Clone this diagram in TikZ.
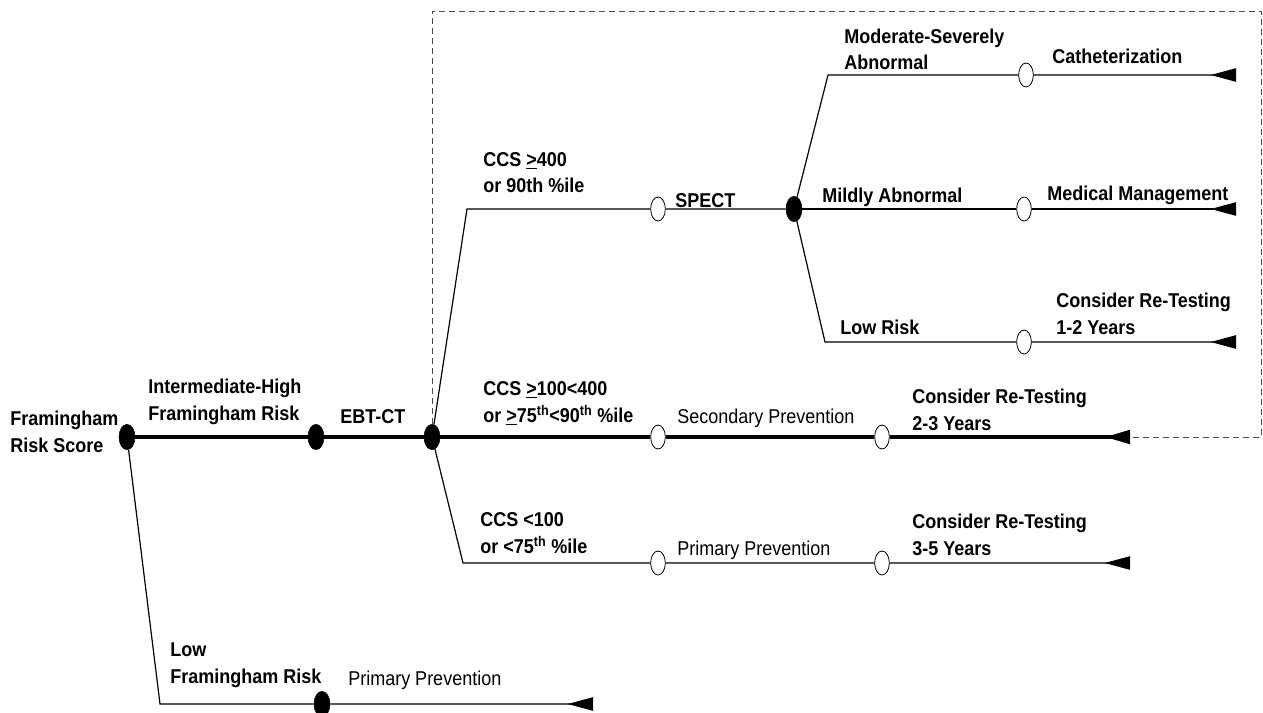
\documentclass[tikz,border=0pt]{standalone}
\usepackage{fontspec}
\setmainfont{Liberation Sans}[FakeStretch=0.9]
\usetikzlibrary{shapes.geometric,arrows.meta}
\newcommand{\lblsize}{\fontsize{15}{20}\selectfont}

\begin{document}
\begin{tikzpicture}[x=0.75pt,y=-0.75pt]

\tikzstyle{decision}=[draw,fill=black,ellipse,minimum width=12pt,minimum height=19pt,inner sep=0pt]
\tikzstyle{chance}=[draw,fill=white,ellipse,minimum width=11pt,minimum height=18pt,inner sep=0pt,line width=0.6pt]
\tikzstyle{lbl}=[anchor=base west,inner sep=0pt,align=left,font=\lblsize\bfseries]
\tikzstyle{lblplain}=[anchor=base west,inner sep=0pt,align=left,font=\lblsize]
\tikzstyle{trunk}=[line width=3pt]
\tikzstyle{branch}=[line width=0.9pt]
\tikzstyle{leaf}=[-{Triangle[reversed,length=19pt,width=10pt]}]
\tikzstyle{dashframe}=[dash pattern=on 4.5pt off 3pt,line width=0.6pt,black!70]

\useasboundingbox (0,0) rectangle (1263,713);

% decision and chance points
\node [decision] (frs) at (127,437) {};
\node [decision] (ihr) at (316,437) {};
\node [decision] (ebt) at (432,437) {};
\node [decision] (low) at (322,704) {};
\node [chance] (sp1) at (658,209) {};
\node [decision] (spect) at (794,209) {};
\node [chance] (cath) at (1026,75) {};
\node [chance] (med) at (1024,209) {};
\node [chance] (lrt) at (1024,342) {};
\node [chance] (sec) at (658,437) {};
\node [chance] (rt23) at (882,437) {};
\node [chance] (pri) at (658,563) {};
\node [chance] (rt35) at (882,563) {};

% elbows and terminal ends
\coordinate (lowe) at (160,704);
\coordinate (tope) at (467,209);
\coordinate (bote) at (463,563);
\coordinate (mode) at (828,75);
\coordinate (lre) at (825,342);
\coordinate (lowend) at (593,704);
\coordinate (catend) at (1236,75);
\coordinate (medend) at (1236,209);
\coordinate (lrtend) at (1236,342);
\coordinate (mainend) at (1130,437);
\coordinate (botend) at (1130,563);
\coordinate (boxtop) at (1261,11);
\coordinate (boxright) at (1261,437);

% branches
\draw [trunk,leaf] (frs) -- (ihr) -- (ebt) -- (sec) -- (rt23) -- (mainend);
\draw [branch,leaf] (frs) -- (lowe) -- (low) -- (lowend);
\draw [branch] (ebt) -- (tope) -- (sp1) -- (spect);
\draw [branch,leaf] (spect) -- (mode) -- (cath) -- (catend);
\draw [branch,leaf] (spect) -- (med) -- (medend);
\draw [branch,leaf] (spect) -- (lre) -- (lrt) -- (lrtend);
\draw [branch,leaf] (ebt) -- (bote) -- (pri) -- (rt35) -- (botend);
\draw [dashframe] (ebt.north) -- (ebt.north |- boxtop) -- (boxtop) -- (boxright) -- (mainend);

% labels
\node [lbl] (frslbl) at (10,452) {Framingham\\Risk Score};
\node [lbl] (ihrlbl) at (148,420) {Intermediate-High\\Framingham Risk};
\node [lbl] (ebtlbl) at (340,423) {EBT-CT};
\node [lbl] (hilbl) at (483,193) {CCS \underline{>}400\\or 90th \%ile};
\node [lbl] (spectlbl) at (675,207) {SPECT};
\node [lbl] (modlbl) at (844,70) {Moderate-Severely\\Abnormal};
\node [lbl] (cathlbl) at (1052,64) {Catheterization};
\node [lbl] (mildlbl) at (822,202) {Mildly Abnormal};
\node [lbl] (medlbl) at (1047,200) {Medical Management};
\node [lbl] (lrlbl) at (840,334) {Low Risk};
\node [lbl] (rt12lbl) at (1056,334) {Consider Re-Testing\\1-2 Years};
\node [lbl] (midlbl) at (483,422) {CCS \underline{>}100<400\\or \underline{>}75\textsuperscript{th}<90\textsuperscript{th} \%ile};
\node [lblplain] (seclbl) at (677,423) {Secondary Prevention};
\node [lbl] (rt23lbl) at (912,430) {Consider Re-Testing\\2-3 Years};
\node [lbl] (lolbl) at (480,553) {CCS <100\\or <75\textsuperscript{th} \%ile};
\node [lblplain] (prilbl) at (677,555) {Primary Prevention};
\node [lbl] (rt35lbl) at (912,555) {Consider Re-Testing\\3-5 Years};
\node [lbl] (lowlbl) at (170,683) {Low\\Framingham Risk};
\node [lblplain] (lowprilbl) at (348,685) {Primary Prevention};

\end{tikzpicture}
\end{document}
